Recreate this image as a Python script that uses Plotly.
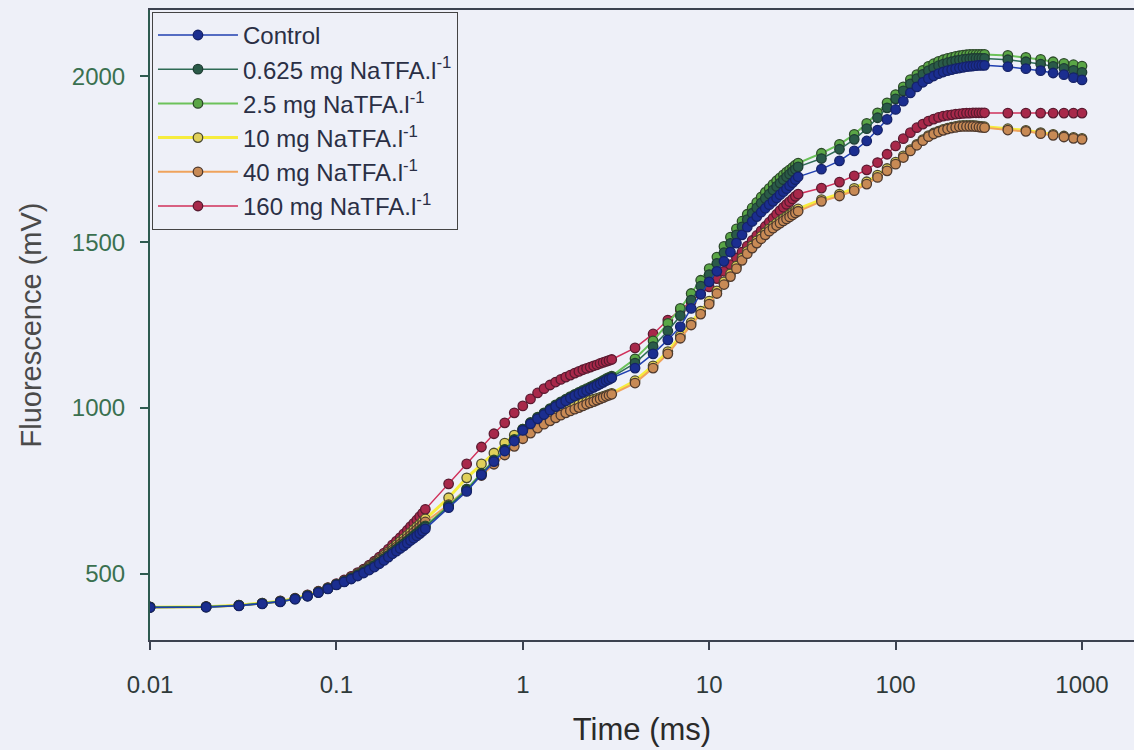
import plotly.graph_objects as go

# Sampling times (ms)
time_ms = [
    0.01, 0.02, 0.03, 0.04, 0.05, 0.06, 0.07, 0.08, 0.09, 0.10,
    0.11, 0.12, 0.13, 0.14, 0.15, 0.16, 0.17, 0.18, 0.19, 0.20,
    0.21, 0.22, 0.23, 0.24, 0.25, 0.26, 0.27, 0.28, 0.29, 0.30,
    0.4, 0.5, 0.6, 0.7, 0.8, 0.9, 1.0, 1.1, 1.2, 1.3, 1.4, 1.5, 1.6, 1.7,
    1.8, 1.9, 2.0, 2.1, 2.2, 2.3, 2.4, 2.5, 2.6, 2.7, 2.8, 2.9, 3.0,
    4, 5, 6, 7, 8, 9, 10, 11, 12, 13, 14, 15, 16, 17,
    18, 19, 20, 21, 22, 23, 24, 25, 26, 27, 28, 29, 30,
    40, 50, 60, 70, 80, 90, 100, 110, 120, 130, 140, 150, 160, 170,
    180, 190, 200, 210, 220, 230, 240, 250, 260, 270, 280, 290, 300,
    400, 500, 600, 700, 800, 900, 1000,
]

control = [
    398, 399, 403, 409, 415, 423, 432, 443, 454, 466,
    475, 484, 493, 502, 511, 520, 530, 540, 550, 560,
    568, 576, 584, 592, 600, 607, 614, 621, 628, 635,
    699, 748, 798, 838, 870, 900, 932, 952, 967, 980, 993, 1004, 1013, 1021,
    1029, 1036, 1042, 1047, 1052, 1057, 1062, 1067, 1072, 1077, 1082, 1086, 1090,
    1120, 1163, 1205, 1245, 1300, 1343, 1380, 1412, 1442, 1470, 1497, 1522, 1545, 1562,
    1577, 1590, 1602, 1613, 1623, 1633, 1643, 1652, 1661, 1670, 1679, 1688, 1697,
    1720, 1745, 1775, 1805, 1838, 1870, 1900, 1925, 1950, 1968, 1982, 1993, 2001, 2008,
    2013, 2017, 2020, 2023, 2025, 2027, 2029, 2030, 2031, 2032, 2033, 2033, 2033,
    2029, 2023, 2017, 2010, 2005, 1996, 1989,
]

na_0625 = [
    399, 400, 404, 410, 416, 424, 433, 444, 455, 467,
    476, 486, 495, 505, 514, 524, 534, 544, 554, 564,
    573, 581, 589, 597, 605, 613, 620, 627, 634, 641,
    703, 752, 801, 841, 873, 903, 934, 954, 970, 983, 996, 1007, 1016, 1024,
    1032, 1039, 1045, 1050, 1055, 1060, 1065, 1070, 1075, 1080, 1085, 1089, 1093,
    1135, 1185, 1232, 1278, 1325, 1367, 1402, 1436, 1468, 1496, 1522, 1546, 1568, 1587,
    1603, 1618, 1632, 1645, 1657, 1668, 1678, 1688, 1697, 1705, 1713, 1720, 1727,
    1752, 1780, 1810, 1842, 1875, 1905, 1932, 1956, 1977, 1993, 2006, 2017, 2025, 2032,
    2037, 2041, 2044, 2047, 2049, 2051, 2052, 2053, 2054, 2054, 2054, 2054, 2054,
    2050, 2044, 2037, 2030, 2024, 2018, 2012,
]

na_25 = [
    399, 400, 404, 410, 416, 424, 433, 444, 455, 467,
    476, 486, 496, 506, 515, 525, 535, 545, 555, 565,
    574, 583, 591, 599, 607, 615, 622, 630, 637, 644,
    705, 755, 803, 843, 875, 905, 936, 956, 972, 985, 998, 1009, 1018, 1026,
    1034, 1041, 1047, 1053, 1058, 1063, 1068, 1073, 1078, 1083, 1088, 1092, 1096,
    1148, 1202, 1255, 1300, 1345, 1385, 1420, 1455, 1487, 1515, 1540, 1563, 1584, 1603,
    1620, 1636, 1650, 1662, 1674, 1685, 1694, 1703, 1711, 1718, 1725, 1732, 1738,
    1768, 1795, 1825, 1858, 1890, 1920, 1945, 1968, 1990, 2005, 2018, 2030, 2038, 2045,
    2050, 2054, 2057, 2060, 2062, 2064, 2065, 2066, 2066, 2066, 2066, 2066, 2066,
    2063, 2057, 2051, 2044, 2039, 2035, 2031,
]

na_10 = [
    399, 400, 405, 411, 417, 425, 435, 446, 457, 468,
    478, 489, 500, 511, 522, 533, 544, 555, 566, 577,
    587, 597, 606, 615, 624, 633, 641, 649, 657, 665,
    729, 789, 831, 864, 894, 918, 936, 950, 962, 972, 980, 987, 993, 998,
    1003, 1007, 1011, 1015, 1019, 1023, 1026, 1029, 1032, 1035, 1038, 1041, 1044,
    1082, 1127, 1170, 1217, 1257, 1292, 1322, 1353, 1380, 1404, 1428, 1452, 1472, 1489,
    1504, 1517, 1529, 1540, 1549, 1557, 1564, 1571, 1577, 1583, 1589, 1595, 1600,
    1628, 1645, 1662, 1682, 1702, 1722, 1741, 1760, 1779, 1795, 1809, 1821, 1829, 1835,
    1840, 1844, 1847, 1849, 1851, 1852, 1852, 1852, 1852, 1851, 1850, 1849, 1848,
    1842, 1837, 1830, 1825, 1820, 1816, 1813,
]

na_40 = [
    399, 400, 404, 410, 416, 425, 434, 445, 456, 467,
    477, 488, 498, 509, 519, 530, 540, 550, 561, 571,
    580, 589, 598, 607, 615, 624, 632, 640, 648, 656,
    708, 755, 796, 830, 858, 884, 907, 924, 939, 951, 961, 970, 978, 985,
    991, 996, 1001, 1006, 1011, 1015, 1019, 1023, 1027, 1031, 1035, 1038, 1041,
    1075, 1120, 1163, 1210, 1250, 1283, 1313, 1345, 1372, 1396, 1420, 1445, 1465, 1482,
    1497, 1510, 1522, 1533, 1542, 1550, 1557, 1564, 1570, 1576, 1582, 1588, 1593,
    1623, 1639, 1655, 1675, 1695, 1715, 1735, 1755, 1775, 1792, 1806, 1818, 1826, 1832,
    1837, 1841, 1844, 1846, 1848, 1849, 1849, 1849, 1849, 1848, 1847, 1846, 1845,
    1838, 1834, 1827, 1822, 1817, 1813, 1810,
]

na_160 = [
    400, 401, 405, 411, 418, 426, 436, 447, 458, 470,
    481, 492, 503, 514, 526, 538, 550, 562, 574, 587,
    598, 609, 620, 631, 642, 652, 662, 672, 682, 694,
    771, 831, 882, 922, 955, 985, 1006, 1027, 1045, 1058, 1069, 1078, 1086, 1093,
    1099, 1105, 1110, 1115, 1119, 1123, 1127, 1130, 1134, 1137, 1140, 1143, 1146,
    1181, 1223, 1265, 1295, 1320, 1343, 1365, 1390, 1412, 1432, 1452, 1470, 1488, 1505,
    1520, 1534, 1547, 1560, 1572, 1584, 1595, 1605, 1614, 1622, 1630, 1638, 1645,
    1663, 1681, 1700, 1718, 1740, 1765, 1790, 1812, 1830, 1845, 1856, 1865, 1871, 1876,
    1880, 1882, 1884, 1886, 1887, 1888, 1889, 1889, 1890, 1890, 1890, 1890, 1890,
    1889, 1889, 1889, 1889, 1889, 1889, 1889,
]

series_names = [
    "Control",
    "0.625 mg NaTFA.l<sup>-1</sup>",
    "2.5 mg NaTFA.l<sup>-1</sup>",
    "10 mg NaTFA.l<sup>-1</sup>",
    "40 mg NaTFA.l<sup>-1</sup>",
    "160 mg NaTFA.l<sup>-1</sup>",
]
series_values = [control, na_0625, na_25, na_10, na_40, na_160]
line_colors = ["#2040b0", "#2e6b55", "#6cc25a", "#f6ec3e", "#efa35c", "#d0305a"]
marker_fill = ["#1b2e90", "#2a5a48", "#5aa646", "#e0d05a", "#c88a55", "#a8284a"]
marker_edge = ["#152268", "#1e3d33", "#2c4a2a", "#4a4a30", "#4f3a2e", "#5a1a30"]
line_widths = [1.5, 1.5, 2, 3, 2, 1.5]
draw_order = [5, 3, 4, 2, 1, 0]  # bottom to top

x_tickvals = [0.01, 0.1, 1, 10, 100, 1000]
x_ticktext = ["0.01", "0.1", "1", "10", "100", "1000"]
y_tickvals = [500, 1000, 1500, 2000]

for v in series_values:
    assert len(v) == len(time_ms), (len(v), len(time_ms))

fig = go.Figure()
for i in draw_order:
    fig.add_trace(go.Scatter(
        x=time_ms, y=series_values[i], name=series_names[i],
        legendrank=i + 1,
        mode="lines+markers",
        line=dict(color=line_colors[i], width=line_widths[i]),
        marker=dict(size=9.5, color=marker_fill[i],
                    line=dict(color=marker_edge[i], width=1.3)),
    ))

bg = "#eef0f8"
fig.update_layout(
    width=1134, height=750,
    margin=dict(l=150, r=0, t=10, b=110),
    paper_bgcolor=bg, plot_bgcolor=bg,
    font=dict(family="Liberation Sans, Arial, sans-serif", color="#333"),
    showlegend=True,
    legend=dict(
        x=0.002, y=0.997, xanchor="left", yanchor="top",
        traceorder="normal",
        bgcolor=bg, bordercolor="#444", borderwidth=1,
        font=dict(size=24, color="#2a2f45"),
        itemwidth=80, tracegroupgap=0,
    ),
    xaxis=dict(
        type="log", range=[-2, 3.279],
        tickvals=x_tickvals, ticktext=x_ticktext,
        showgrid=False, zeroline=False,
        showline=True, linecolor="#3c4250", linewidth=2, mirror=True,
        ticks="outside", ticklen=8, tickwidth=2, tickcolor="#3c4250",
        tickfont=dict(size=24, color="#2f3a3a"),
        ticklabelstandoff=14,
        title=dict(text="Time (ms)", font=dict(size=31, color="#2a2a2a"), standoff=22),
    ),
    yaxis=dict(
        range=[300, 2200],
        tickvals=y_tickvals,
        showgrid=False, zeroline=False,
        showline=True, linecolor="#2d5a50", linewidth=2,
        ticks="outside", ticklen=8, tickwidth=2, tickcolor="#2d5a50",
        tickfont=dict(size=24, color="#3a7050"),
        ticklabelstandoff=10,
        title=dict(text="Fluorescence (mV)", font=dict(size=29, color="#4a4a4a"), standoff=22),
    ),
)

fig.write_html("out.html")
